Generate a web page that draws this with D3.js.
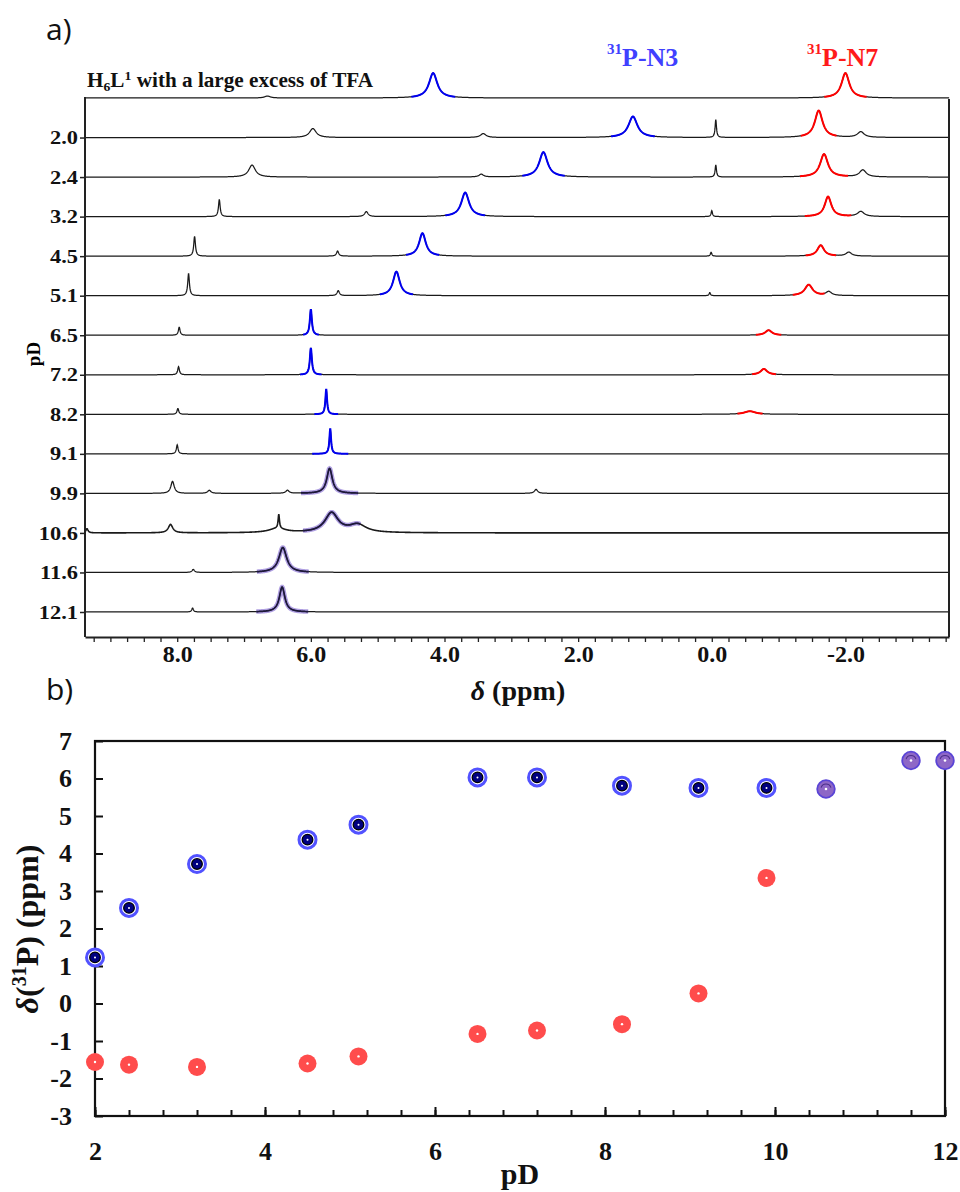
<!DOCTYPE html>
<html>
<head>
<meta charset="utf-8">
<script src="https://cdn.jsdelivr.net/npm/d3@7"></script>
<style>
  body { margin: 0; background: #fff; }
  svg { display: block; }
  text { font-family: "Liberation Serif", "Times New Roman", serif; font-weight: bold; }
</style>
</head>
<body>
<div id="chart"></div>
<script>
// ---- panel a: stacked 31P spectra, one row per pD ----
const rowKeys = ["TFA", "2.0", "2.4", "3.2", "4.5", "5.1", "6.5", "7.2", "8.2", "9.1", "9.9", "10.6", "11.6", "12.1"];

// [shift ppm, intensity, half-width ppm, coloured half-span ppm]
const n3Peaks = [
  [4.17, 89, 0.075, 0.33], [1.18, 75, 0.08, 0.33], [2.52, 89, 0.075, 0.32], [3.69, 86, 0.07, 0.30],
  [4.33, 82, 0.06, 0.25], [4.72, 86, 0.06, 0.25], [6.00, 93, 0.018, 0.12], [6.00, 96, 0.018, 0.16],
  [5.77, 89, 0.015, 0.18], [5.71, 89, 0.015, 0.27], [5.72, 89, 0.05, 0.43], [5.69, 70, 0.12, 0.43],
  [6.42, 89, 0.07, 0.39], [6.43, 89, 0.05, 0.39]
];
const n7Peaks = [
  [-2.00, 89, 0.07, 0.32], [-1.60, 96, 0.07, 0.27], [-1.68, 82, 0.07, 0.36], [-1.74, 71, 0.06, 0.35],
  [-1.63, 39, 0.06, 0.23], [-1.45, 39, 0.07, 0.24], [-0.85, 18, 0.06, 0.19], [-0.78, 21, 0.06, 0.18],
  [-0.57, 11, 0.10, 0.19], null, null, null, null, null
];
// other (black) signals per row: [shift, intensity, half-width]
const minorPeaks = [
  [[6.65, 7, 0.05]],
  [[5.97, 32, 0.06], [3.42, 14, 0.05], [-0.06, 64, 0.012], [-2.23, 20, 0.06]],
  [[6.88, 43, 0.06], [3.45, 10, 0.04], [-0.06, 43, 0.012], [-2.26, 25, 0.06]],
  [[7.37, 61, 0.015], [5.17, 18, 0.03], [0.00, 21, 0.012], [-2.23, 18, 0.06]],
  [[7.74, 71, 0.015], [5.60, 18, 0.02], [0.01, 14, 0.012], [-2.05, 14, 0.05]],
  [[7.83, 79, 0.015], [5.59, 18, 0.02], [0.03, 11, 0.012], [-1.75, 14, 0.05]],
  [[7.97, 29, 0.015]],
  [[7.98, 29, 0.015]],
  [[7.99, 21, 0.015]],
  [[8.00, 32, 0.015]],
  [[8.07, 43, 0.03], [7.52, 11, 0.03], [6.35, 11, 0.03], [2.63, 14, 0.03]],
  [[9.35, 15, 0.02], [8.10, 30, 0.04], [6.48, 50, 0.012], [6.50, 15, 0.15], [5.30, 28, 0.15]],
  [[7.76, 11, 0.02]],
  [[7.77, 14, 0.015]]
];
const broadRows = ["9.9", "10.6", "11.6", "12.1"];
const ppmLabels = [8, 6, 4, 2, 0, -2];

// ---- panel b: chemical shift vs pD ----
const pDn3 = [2.0, 2.4, 3.2, 4.5, 5.1, 6.5, 7.2, 8.2, 9.1, 9.9, 10.6, 11.6, 12.0];
const shiftN3 = [1.23, 2.55, 3.72, 4.37, 4.77, 6.03, 6.03, 5.81, 5.75, 5.75, 5.72, 6.48, 6.48];
const pDn7 = [2.0, 2.4, 3.2, 4.5, 5.1, 6.5, 7.2, 8.2, 9.1, 9.9];
const shiftN7 = [-1.56, -1.63, -1.69, -1.60, -1.41, -0.81, -0.72, -0.55, 0.27, 3.35];
const pDTickLabels = [2, 4, 6, 8, 10, 12];
const shiftTickLabels = [-3, -2, -1, 0, 1, 2, 3, 4, 5, 6, 7];

function draw() {
  d3.select("#chart").selectAll("svg").remove();
  const svg = d3.select("#chart").append("svg")
    .attr("width", 960).attr("height", 1192)
    .attr("viewBox", "0 0 960 1192");

  const fmt = d => d3.format(".1f")(d).replace("\u2212", "-");

  // ================= panel a =================
  const xA = d3.scaleLinear().domain([9.38, -3.55]).range([85, 949]);
  const rowY = d3.scalePoint().domain(rowKeys).range([98, 612]);
  const yInt = d3.scaleLinear().domain([0, 100]).range([0, 28]);
  const grid = d3.range(9.38, -3.555, -0.004);

  const lor = (x, p) => p[1] / (1 + ((x - p[0]) / p[2]) ** 2);

  const gA = svg.append("g");

  rowKeys.forEach((key, i) => {
    const peaks = [n3Peaks[i], n7Peaks[i], ...minorPeaks[i]].filter(Boolean);
    const pts = grid.map(x => [x, d3.sum(peaks, p => lor(x, p))]);
    const line = d3.line()
      .x(d => xA(d[0]))
      .y(d => rowY(key) - yInt(d[1]));

    gA.append("path")
      .attr("d", line(pts))
      .attr("fill", "none")
      .attr("stroke", "#1a1a1a")
      .attr("stroke-width", key === "10.6" ? 1.6 : 1.25);

    const seg = p => pts.filter(d => d[0] <= p[0] + p[3] && d[0] >= p[0] - p[3]);
    if (broadRows.includes(key)) {
      gA.append("path").attr("d", line(seg(n3Peaks[i])))
        .attr("fill", "none").attr("stroke", "rgba(110,80,200,0.55)").attr("stroke-width", 4.5);
      gA.append("path").attr("d", line(seg(n3Peaks[i])))
        .attr("fill", "none").attr("stroke", "#1c1838").attr("stroke-width", 1.7);
    } else {
      gA.append("path").attr("d", line(seg(n3Peaks[i])))
        .attr("fill", "none").attr("stroke", "#0000f0").attr("stroke-width", 2);
    }
    if (n7Peaks[i]) {
      gA.append("path").attr("d", line(seg(n7Peaks[i])))
        .attr("fill", "none").attr("stroke", "#ff0000").attr("stroke-width", 2);
    }
  });

  // frame lines
  gA.append("line").attr("x1", 85).attr("x2", 85).attr("y1", 97).attr("y2", 637)
    .attr("stroke", "#222").attr("stroke-width", 2);
  gA.append("line").attr("x1", 949).attr("x2", 949).attr("y1", 99).attr("y2", 637)
    .attr("stroke", "#222").attr("stroke-width", 2);

  // bottom ppm axis
  const axA = gA.append("g")
    .attr("transform", "translate(0,637)")
    .call(d3.axisBottom(xA)
      .tickValues(d3.range(9.25, -3.6, -0.25))
      .tickSize(5).tickPadding(3).tickSizeOuter(0)
      .tickFormat(d => ppmLabels.includes(d) ? fmt(d) : ""));
  axA.select(".domain").attr("stroke", "#222").attr("stroke-width", 2);
  axA.selectAll(".tick line").attr("stroke", "#222").attr("stroke-width", 1.3);
  axA.selectAll(".tick text")
    .style("font-size", "24px").attr("fill", "#111")
    .style("font-family", "'Liberation Serif', serif").style("font-weight", "bold");

  // pD row labels (the original artwork is stretched sideways)
  const axRows = gA.append("g")
    .attr("transform", "translate(85,0)")
    .call(d3.axisLeft(rowY).tickValues(rowKeys.slice(1)).tickSize(5).tickPadding(2));
  axRows.select(".domain").remove();
  axRows.selectAll(".tick line").attr("stroke", "#222").attr("stroke-width", 1.5);
  axRows.selectAll(".tick text")
    .attr("transform", "scale(1.18,1)")
    .attr("x", -7 / 1.18)
    .style("font-size", "19px").attr("fill", "#111")
    .style("font-family", "'Liberation Serif', serif").style("font-weight", "bold");

  gA.append("text")
    .attr("transform", "translate(40,354) rotate(-90)")
    .attr("text-anchor", "middle")
    .style("font-size", "19px")
    .text("pD");

  // title of the top trace
  const t = gA.append("text")
    .attr("transform", "translate(87,87) scale(1.06,1)")
    .style("font-size", "20px").attr("fill", "#111");
  t.append("tspan").text("H");
  t.append("tspan").attr("dy", 4).style("font-size", "13px").text("6");
  t.append("tspan").attr("dy", -4).text("L");
  t.append("tspan").attr("dy", -7).style("font-size", "13px").text("1");
  t.append("tspan").attr("dy", 7).text(" with a large excess of TFA");

  // signal labels
  [["P-N3", 607, "#4040ff"], ["P-N7", 807, "#ff1a1a"]].forEach(([lab, x, c]) => {
    const s = gA.append("text").attr("x", x).attr("y", 66).attr("fill", c);
    s.append("tspan").attr("dy", -12).style("font-size", "15px").text("31");
    s.append("tspan").attr("dy", 12).style("font-size", "26px").text(lab);
  });

  // x axis title
  const xt = gA.append("text").attr("x", 518).attr("y", 700)
    .attr("text-anchor", "middle").style("font-size", "28px").attr("fill", "#111");
  xt.append("tspan").style("font-style", "italic").text("δ");
  xt.append("tspan").text(" (ppm)");

  // panel letters
  [["a)", 40], ["b)", 700]].forEach(([lab, y]) => {
    svg.append("text").attr("x", 46).attr("y", y).text(lab)
      .style("font-family", "'Open Sans', 'Noto Sans', sans-serif").style("font-weight", "normal")
      .style("font-size", "30px").attr("fill", "#111");
  });

  // ================= panel b =================
  const xB = d3.scaleLinear().domain([2, 12]).range([95, 945]);
  const yB = d3.scaleLinear().domain([-3, 7]).range([1116, 741]);
  const gB = svg.append("g");

  gB.append("rect")
    .attr("x", xB(2)).attr("y", yB(7))
    .attr("width", xB(12) - xB(2)).attr("height", yB(-3) - yB(7))
    .attr("fill", "none").attr("stroke", "#111").attr("stroke-width", 2.2);

  const ayB = gB.append("g")
    .attr("transform", `translate(${xB(2)},0)`)
    .call(d3.axisLeft(yB).tickValues(shiftTickLabels)
      .tickSizeInner(-8).tickSizeOuter(0).tickPadding(23)
      .tickFormat(d => String(d)));
  ayB.select(".domain").remove();

  const axMinor = gB.append("g")
    .attr("transform", `translate(0,${yB(-3)})`)
    .call(d3.axisBottom(xB).tickValues(d3.range(2, 12.01, 0.4))
      .tickSizeInner(-6).tickSizeOuter(0).tickFormat(""));
  axMinor.select(".domain").remove();

  const axB = gB.append("g")
    .attr("transform", `translate(0,${yB(-3)})`)
    .call(d3.axisBottom(xB).tickValues(pDTickLabels)
      .tickSizeInner(-9).tickSizeOuter(0).tickPadding(26)
      .tickFormat(d => String(d)));
  axB.select(".domain").remove();

  gB.selectAll(".tick line").attr("stroke", "#111").attr("stroke-width", 2);
  gB.selectAll(".tick text")
    .style("font-size", "26px").attr("fill", "#111")
    .style("font-family", "'Liberation Serif', serif").style("font-weight", "bold");

  // P-N7 points (red)
  const red = gB.append("g").selectAll("g")
    .data(pDn7.map((p, i) => [p, shiftN7[i]]))
    .join("g")
    .attr("transform", d => `translate(${xB(d[0])},${yB(d[1])})`);
  red.append("circle").attr("r", 9).attr("fill", "#ff4c4c");
  red.append("circle").attr("r", 1.2).attr("fill", "#fff");

  // P-N3 points (blue, broad ones purple)
  const n3 = pDn3.map((p, i) => [p, shiftN3[i]]);
  const blue = gB.append("g").selectAll("g")
    .data(n3.filter(d => d[0] < 10.5))
    .join("g")
    .attr("transform", d => `translate(${xB(d[0])},${yB(d[1])})`);
  blue.append("circle").attr("r", 8.5).attr("fill", "#fff")
    .attr("stroke", "#5252ff").attr("stroke-width", 3);
  blue.append("circle").attr("r", 5.3).attr("fill", "#000080")
    .attr("stroke", "#000").attr("stroke-width", 1.3);
  blue.append("circle").attr("r", 1).attr("fill", "#fff");

  const purple = gB.append("g").selectAll("g")
    .data(n3.filter(d => d[0] >= 10.5))
    .join("g")
    .attr("transform", d => `translate(${xB(d[0])},${yB(d[1])})`);
  purple.append("circle").attr("r", 8.8).attr("fill", "#8e67c6")
    .attr("stroke", "#5a44d6").attr("stroke-width", 1.8);
  purple.append("path")
    .attr("d", d3.arc()({ innerRadius: 4.6, outerRadius: 5.6, startAngle: -1.3, endAngle: 1.3 }))
    .attr("fill", "#4a2e8a");
  purple.append("circle").attr("r", 1.3).attr("fill", "#fff");

  // axis titles
  const yt = gB.append("text")
    .attr("transform", "translate(38,929) rotate(-90)")
    .attr("text-anchor", "middle").style("font-size", "32px").attr("fill", "#111");
  yt.append("tspan").style("font-style", "italic").text("δ");
  yt.append("tspan").text("(");
  yt.append("tspan").attr("dy", -12).style("font-size", "20px").text("31");
  yt.append("tspan").attr("dy", 12).text("P) (ppm)");

  gB.append("text").attr("x", 520).attr("y", 1184)
    .attr("text-anchor", "middle").style("font-size", "30px").attr("fill", "#111")
    .text("pD");
}

draw();
</script>
</body>
</html>
